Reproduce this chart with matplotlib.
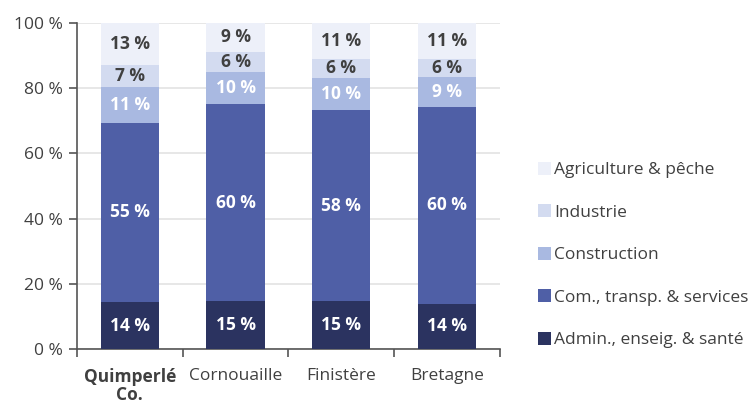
import matplotlib
matplotlib.use("Agg")
import matplotlib.pyplot as plt
import numpy as np

categories = ["Quimperlé\nCo.", "Cornouaille", "Finistère", "Bretagne"]
series_names = ["Admin., enseig. & santé", "Com., transp. & services", "Construction", "Industrie", "Agriculture & pêche"]
admin = [14.4, 14.6, 14.8, 13.9]
commerce = [55.0, 60.4, 58.4, 60.3]
construction = [10.9, 10.0, 9.9, 9.2]
industrie = [6.9, 6.1, 5.9, 5.7]
agriculture = [12.8, 8.9, 11.0, 10.9]
colors = ["#2b3360", "#4f5fa6", "#a9b9e1", "#d3dbf0", "#edf0f9"]
label_colors = ["white", "white", "white", "#404040", "#404040"]

plt.rcParams['font.family'] = ['Open Sans', 'DejaVu Sans']

fig = plt.figure(figsize=(7.53, 4.03), dpi=100)
ax = fig.add_axes([0.102, 0.134, 0.562, 0.809])

x = np.arange(len(categories))
bottom = np.zeros(len(categories))
data = [admin, commerce, construction, industrie, agriculture]
handles = []
for vals, col, lc, name in zip(data, colors, label_colors, series_names):
    vals = np.array(vals)
    b = ax.bar(x, vals, 0.55, bottom=bottom, color=col, label=name, zorder=3)
    handles.append(b)
    for xi, v, bt in zip(x, vals, bottom):
        ax.text(xi, bt + v / 2, f"{round(v):d} %", ha="center", va="center",
                color=lc, fontsize=12.5, fontweight="bold", zorder=4)
    bottom += vals

ax.set_xlim(-0.5, len(categories) - 0.5)
ax.set_ylim(0, 100)
ax.set_yticks(range(0, 101, 20))
ax.set_yticklabels([f"{v} %" for v in range(0, 101, 20)], fontsize=12.5, color="#404040")
ax.yaxis.grid(True, color="#e3e3e3", linewidth=1.2, zorder=0)
ax.set_axisbelow(True)

ax.set_xticks(x)
ax.set_xticklabels(categories, fontsize=12.5, color="#404040", linespacing=1.0)
ax.get_xticklabels()[0].set_fontweight("bold")
ax.tick_params(axis="x", length=0, pad=14)
ax.set_xticks(np.arange(-0.5, len(categories)), minor=True)
ax.tick_params(axis="x", which="minor", length=6, color="#555555", width=1.2)
ax.tick_params(axis="y", length=6, color="#555555", width=1.2, pad=4)

for s in ["top", "right"]:
    ax.spines[s].set_visible(False)
for s in ["left", "bottom"]:
    ax.spines[s].set_color("#555555")
    ax.spines[s].set_linewidth(1.2)

leg = fig.legend(handles[::-1], series_names[::-1], loc="center left",
                 bbox_to_anchor=(0.705, 0.367), frameon=False, fontsize=12.5,
                 handlelength=0.75, handleheight=0.75, handletextpad=0.2,
                 labelspacing=1.5, labelcolor="#404040", borderaxespad=0)

fig.savefig("out.png", dpi=100)
